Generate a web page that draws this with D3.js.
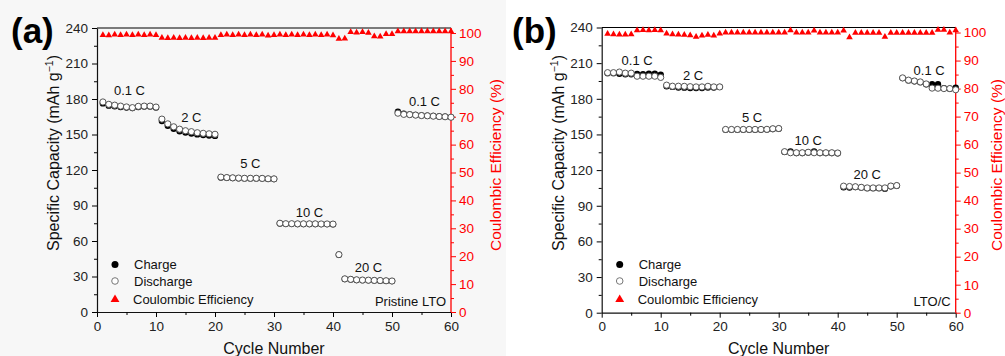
<!DOCTYPE html>
<html>
<head>
<meta charset="utf-8">
<script src="https://cdn.jsdelivr.net/npm/d3@7"></script>
<style>
  html, body { margin: 0; padding: 0; background: #ffffff; }
  svg { display: block; font-family: "Liberation Sans", Arial, sans-serif; }
</style>
</head>
<body>
<svg id="chart" width="1005" height="356"></svg>
<script>
// ---------------- DATA ----------------
const cycles = [1,2,3,4,5,6,7,8,9,10,11,12,13,14,15,16,17,18,19,20,
  21,22,23,24,25,26,27,28,29,30,31,32,33,34,35,36,37,38,39,40,
  41,42,43,44,45,46,47,48,49,50,51,52,53,54,55,56,57,58,59,60];

const xTicks = [0, 10, 20, 30, 40, 50, 60];
const xMinorTicks = [5, 15, 25, 35, 45, 55];
const capTicks = [0, 30, 60, 90, 120, 150, 180, 210, 240];
const capMinorTicks = [15, 45, 75, 105, 135, 165, 195, 225];
const ceTicks = [0, 10, 20, 30, 40, 50, 60, 70, 80, 90, 100];
const ceMinorTicks = [5, 15, 25, 35, 45, 55, 65, 75, 85, 95];

// Panel (a) Pristine LTO
const aDischarge = [177.5,175.5,174.8,174,173.3,172.7,173.8,174,174,173.2,
  163,159,156.5,154.5,153.2,152.4,151.5,151,150.6,150.2,
  114,113.6,113.4,113.2,113,113,113,112.9,112.6,112.5,
  75,74.6,74.6,74.5,74.5,74.5,74.5,74.4,74.4,74.3,
  48.5,28,27.6,27.2,27,26.9,26.7,26.6,26.4,26.2,
  168,167,166.8,166.4,166,165.8,165.5,165.2,165,164.6];
const aCharge = [176.3,174.4,173.8,173.2,172.8,172.3,173.2,173.6,173.6,172.8,
  161.4,157.4,154.8,152.8,151.6,150.9,150.1,149.6,149.2,148.8,
  113.7,113.4,113.2,113,112.9,112.9,112.9,112.8,112.5,112.4,
  74.8,74.5,74.5,74.4,74.4,74.4,74.4,74.3,74.3,74.2,
  48.4,27.9,27.5,27.1,26.9,26.8,26.6,26.5,26.3,26.1,
  169.2,167.6,167,166.5,166.1,165.9,165.6,165.3,165.1,164.7];
const aCE = [99.3,99.2,99.4,99.3,99.4,99.3,99.4,99.3,99.4,99.3,
  98.3,98.2,98.3,98.2,98.3,98.2,98.3,98.2,98.3,98.3,
  99.3,99.4,99.3,99.4,99.3,99.4,99.3,99.4,99.1,99.3,
  99.4,99.3,99.4,99.3,99.4,99.3,99.4,99.3,99.4,99.2,
  97.9,98.0,100.3,100.2,100.3,100.1,98.8,98.7,99.6,99.6,
  100.6,100.6,100.6,100.6,100.6,100.6,100.6,100.6,100.6,100.6];

// Panel (b) LTO/C
const bDischarge = [202,202,202.5,201.6,201.6,199,199,199,199,198,
  191.5,190.6,190.6,190.5,190.2,190,190,190.5,190,190,
  154.2,154.2,154.2,154.2,154.2,154.2,154.2,154.3,154.8,155,
  135.5,134.6,134.6,134.6,135,134.6,134.6,134.6,134.6,134.4,
  106.5,106.2,106,105.5,105,105,105,105,106.6,107,
  197.6,195.7,195,194.2,192.5,189,188.9,188.6,188.6,187.6];
const bCharge = [201.6,201.6,201,200.6,200.6,201,200.6,201.2,201.2,200.3,
  190.6,190,189.5,189.4,189,189,189,189.5,189.5,190,
  154,154,154,154,154,154,154,154.1,154.6,154.8,
  135.3,135.6,134.4,134.4,134.8,135.6,134.4,134.4,134.4,134.2,
  105.6,105.4,105.8,105.3,104.8,104.8,104.8,104.4,106.4,106.8,
  197.4,195.5,194.8,194,192.3,192.2,192.2,189,188.4,189.4];
const bCE = [99.5,99.4,99.3,99.3,99.4,100.8,100.9,100.8,100.9,100.8,
  99.6,99.4,99.3,99.2,99.0,98.5,98.9,99.2,98.9,99.6,
  100.0,100.0,100.0,100.0,100.0,100.0,100.0,100.0,100.0,100.0,
  100.0,100.8,100.0,100.0,100.0,100.7,100.0,100.0,100.0,100.0,
  100.7,98.3,99.9,99.9,99.9,99.9,99.9,98.5,99.9,99.9,
  99.9,99.9,99.9,99.9,99.9,99.9,101.0,101.0,100.0,100.8];

const rateLabels = ["0.1 C", "2 C", "5 C", "10 C", "20 C", "0.1 C"];
const aRateAt = [[5.5, 187.5], [16, 164.5], [26, 125.5], [36, 84.5], [46, 37.5], [55.5, 178]];
const bRateAt = [[6, 212.5], [15.5, 200], [25.5, 164], [35, 144.7], [45, 116.7], [55.5, 204]];

const legendLabels = ["Charge", "Discharge", "Coulombic Efficiency"];

// ---------------- DRAW ----------------
const svg = d3.select("#chart");
const RED = "#ff0000";

svg.append("rect").attr("x", 0).attr("y", 0).attr("width", 506).attr("height", 356)
  .attr("fill", "#f7f7f7");

function drawPanel(cfg) {
  const g = svg.append("g");
  const x = d3.scaleLinear().domain([0, 60]).range([cfg.left, cfg.right]);
  const y = d3.scaleLinear().domain([0, 240]).range([cfg.bottom, cfg.top]);
  const y2 = d3.scaleLinear().domain([0, 101.8]).range([cfg.bottom, cfg.top]);

  // top border
  g.append("line").attr("x1", cfg.left).attr("x2", cfg.right)
    .attr("y1", cfg.top).attr("y2", cfg.top).attr("stroke", "#000").attr("stroke-width", 1.2);

  // x axis
  const xa = g.append("g").attr("transform", `translate(0,${cfg.bottom})`)
    .call(d3.axisBottom(x).tickValues(xTicks).tickSize(5).tickSizeOuter(0).tickPadding(4));
  g.append("g").attr("transform", `translate(0,${cfg.bottom})`)
    .call(d3.axisBottom(x).tickValues(xMinorTicks).tickSize(3).tickSizeOuter(0).tickFormat(""))
    .select(".domain").remove();

  // left axis
  const ya = g.append("g").attr("transform", `translate(${cfg.left},0)`)
    .call(d3.axisLeft(y).tickValues(capTicks).tickSize(5).tickSizeOuter(0).tickPadding(4));
  g.append("g").attr("transform", `translate(${cfg.left},0)`)
    .call(d3.axisLeft(y).tickValues(capMinorTicks).tickSize(3).tickSizeOuter(0).tickFormat(""))
    .select(".domain").remove();

  // right axis
  const yr = g.append("g").attr("transform", `translate(${cfg.right},0)`)
    .call(d3.axisRight(y2).tickValues(ceTicks).tickSize(5).tickSizeOuter(0).tickPadding(3));
  const yrm = g.append("g").attr("transform", `translate(${cfg.right},0)`)
    .call(d3.axisRight(y2).tickValues(ceMinorTicks).tickSize(3).tickSizeOuter(0).tickFormat(""));
  yrm.select(".domain").remove();
  yr.select(".domain").attr("stroke", RED).attr("stroke-width", 1.3)
    .attr("d", `M0,${cfg.bottom}V${cfg.top}`);
  yr.selectAll(".tick line").attr("stroke", RED);
  yrm.selectAll(".tick line").attr("stroke", RED);
  yr.selectAll(".tick text").attr("fill", RED);

  [xa, ya].forEach(a => {
    a.select(".domain").attr("stroke", "#111").attr("stroke-width", 1.2);
  });
  g.selectAll(".tick text").attr("font-size", 13.5)
    .attr("font-family", "'Liberation Sans', Arial, sans-serif");
  xa.selectAll(".tick text").attr("fill", "#222");
  ya.selectAll(".tick text").attr("fill", "#222");

  // axis titles
  g.append("text").attr("x", (cfg.left + cfg.right) / 2).attr("y", 353.5)
    .attr("text-anchor", "middle").attr("font-size", 16).attr("fill", "#111")
    .text("Cycle Number");
  const lt = g.append("text").attr("transform", `translate(${cfg.left - 38},${cfg.yTitleL}) rotate(-90)`)
    .attr("text-anchor", "middle").attr("font-size", 16).attr("fill", "#111");
  lt.append("tspan").text("Specific Capacity (mAh g");
  lt.append("tspan").attr("font-size", 10.5).attr("dy", -6).text("−1");
  lt.append("tspan").attr("dy", 6).text(")");
  g.append("text").attr("transform", `translate(${cfg.right + cfg.rtDx},${cfg.yTitleR}) rotate(-90)`)
    .attr("text-anchor", "middle").attr("font-size", 15.5).attr("fill", RED)
    .text("Coulombic Efficiency (%)");

  // panel label
  g.append("text").attr("x", cfg.labelX).attr("y", 43).attr("font-size", 35)
    .attr("font-weight", "bold").attr("fill", "#000").text(cfg.label);

  // CE triangles
  const tri = d3.symbol().type(d3.symbolTriangle).size(19);
  g.append("g").selectAll("path").data(cycles).join("path")
    .attr("d", tri)
    .attr("transform", (c, i) => `translate(${x(c)},${y2(cfg.ce[i])})`)
    .attr("fill", RED);

  // charge
  g.append("g").selectAll("circle").data(cycles).join("circle")
    .attr("cx", c => x(c)).attr("cy", (c, i) => y(cfg.charge[i])).attr("r", 3.2)
    .attr("fill", "#000");
  // discharge
  g.append("g").selectAll("circle").data(cycles).join("circle")
    .attr("cx", c => x(c)).attr("cy", (c, i) => y(cfg.discharge[i])).attr("r", 3.1)
    .attr("fill", "#fff").attr("stroke", "#555").attr("stroke-width", 1);

  // rate labels
  g.append("g").selectAll("text").data(rateLabels).join("text")
    .attr("x", (d, i) => x(cfg.rateAt[i][0])).attr("y", (d, i) => y(cfg.rateAt[i][1]))
    .attr("dy", "0.35em").attr("text-anchor", "middle").attr("font-size", 13)
    .attr("fill", "#111").text(d => d);

  // legend
  const lx = cfg.left + cfg.legDx;
  const ly = [264.5, 281, 299.5];
  g.append("circle").attr("cx", lx).attr("cy", ly[0]).attr("r", 3.5).attr("fill", "#000");
  g.append("circle").attr("cx", lx).attr("cy", ly[1]).attr("r", 3.3).attr("fill", "#fff")
    .attr("stroke", "#777").attr("stroke-width", 1);
  g.append("path").attr("d", d3.symbol().type(d3.symbolTriangle).size(34))
    .attr("transform", `translate(${lx},${ly[2]})`).attr("fill", RED);
  g.append("g").selectAll("text").data(legendLabels).join("text")
    .attr("x", (d, i) => lx + (i === 2 ? cfg.legText - 1 : cfg.legText)).attr("y", (d, i) => ly[i])
    .attr("dy", "0.35em").attr("font-size", 13).attr("fill", "#111").text(d => d);

  // sample name
  g.append("text").attr("x", cfg.right - 5).attr("y", 301).attr("dy", "0.35em")
    .attr("text-anchor", "end").attr("font-size", 13).attr("fill", "#111").text(cfg.name);
}

drawPanel({left: 97, right: 451, top: 28, bottom: 312, label: "(a)", labelX: 11,
  discharge: aDischarge, charge: aCharge, ce: aCE, rateAt: aRateAt, name: "Pristine LTO",
  yTitleL: 153, yTitleR: 165, legDx: 18, legText: 19, rtDx: 50});
drawPanel({left: 601.7, right: 955.7, top: 27.5, bottom: 312.7, label: "(b)", labelX: 512,
  discharge: bDischarge, charge: bCharge, ce: bCE, rateAt: bRateAt, name: "LTO/C",
  yTitleL: 153, yTitleR: 165, legDx: 18, legText: 19, rtDx: 46});
</script>
</body>
</html>
